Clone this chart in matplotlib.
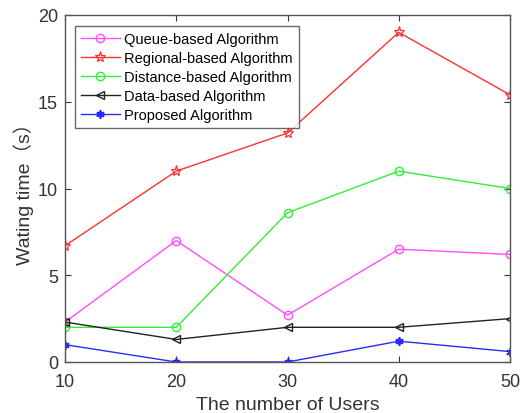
import matplotlib
matplotlib.use("Agg")
import matplotlib.pyplot as plt

users = [10, 20, 30, 40, 50]
queue = [2.3, 7.0, 2.7, 6.5, 6.2]
regional = [6.7, 11.0, 13.2, 19.0, 15.4]
distance = [2.0, 2.0, 8.6, 11.0, 10.0]
data_based = [2.3, 1.3, 2.0, 2.0, 2.5]
proposed = [1.0, 0.0, 0.0, 1.2, 0.6]

labels = ["Queue-based Algorithm", "Regional-based Algorithm", "Distance-based Algorithm",
          "Data-based Algorithm", "Proposed Algorithm"]

plt.rcParams['font.family'] = ['Liberation Sans', 'Noto Sans CJK SC', 'DejaVu Sans']

fig = plt.figure(figsize=(5.23, 4.14), dpi=100)
ax = fig.add_axes([65/523, 1 - 363/414, (510-65)/523, (363-16)/414])

ax.plot(users, queue, color='#ff4dff', marker='o', mfc='none', ms=6, lw=1, label=labels[0])
ax.plot(users, regional, color='#ff3030', marker='*', mfc='none', ms=8, mew=0.9, lw=1, label=labels[1])
ax.plot(users, distance, color='#33ee33', marker='o', mfc='none', ms=6, lw=1, label=labels[2])
ax.plot(users, data_based, color='#222222', marker='<', mfc='none', ms=6, lw=1, label=labels[3])
ax.plot(users, proposed, color='#2a2aff', marker=(6, 2, 0), ms=6, mew=1.3, lw=1, label=labels[4])

ax.set_xlim(10, 50)
ax.set_ylim(0, 20)
ax.set_xticks([10, 20, 30, 40, 50])
ax.set_yticks([0, 5, 10, 15, 20])
ax.tick_params(direction='in', top=True, right=True, labelsize=13, colors='#333333', length=4)
ax.tick_params(axis='x', pad=8)
ax.tick_params(axis='y', pad=5)
for s in ax.spines.values():
    s.set_color('#555555')
    s.set_linewidth(1)

ax.set_xlabel("The number of Users", fontsize=14, color='#333333', labelpad=4)
ax.set_ylabel("Wating time（s）", fontsize=14, color='#333333', labelpad=3)

leg = ax.legend(loc='upper left', bbox_to_anchor=(0.022, 0.968), fontsize=10.5,
                frameon=True, fancybox=False, edgecolor='#444444', borderpad=0.4,
                labelspacing=0.35, handlelength=2.7, handletextpad=0.3, borderaxespad=0)
leg.get_frame().set_linewidth(1)

fig.savefig("out.png", dpi=100)
